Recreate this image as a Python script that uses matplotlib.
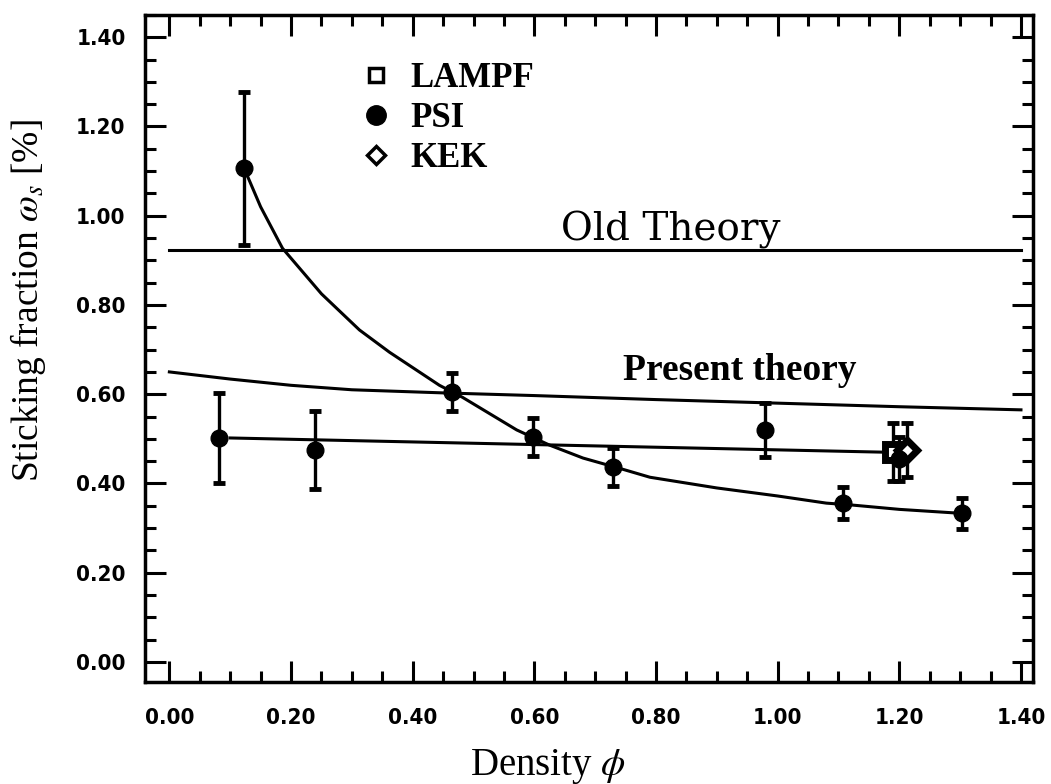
import matplotlib
matplotlib.use("Agg")
import matplotlib.pyplot as plt
from matplotlib.lines import Line2D
from matplotlib.ticker import MultipleLocator

plt.rcParams['mathtext.fontset'] = 'stix'

# PSI points (density, sticking fraction %, error)
psi_x = [0.123, 0.081, 0.240, 0.464, 0.597, 0.729, 0.98, 1.107, 1.303, 1.20]
psi_y = [1.106, 0.502, 0.475, 0.605, 0.504, 0.437, 0.52, 0.356, 0.333, 0.455]
psi_err = [0.172, 0.100, 0.087, 0.042, 0.043, 0.043, 0.06, 0.036, 0.035, 0.05]

lampf_x = [1.19]
lampf_y = [0.47]
lampf_err = [0.065]

kek_x = [1.213]
kek_y = [0.475]
kek_err = [0.06]

# theory / fit curves
old_x = [0.0, 1.40]
old_y = [0.923, 0.923]

present_x = [0.0, 0.1, 0.2, 0.3, 0.45, 0.6, 0.8, 1.0, 1.2, 1.4]
present_y = [0.650, 0.634, 0.620, 0.610, 0.603, 0.597, 0.588, 0.580, 0.572, 0.565]

flat_x = [0.10, 1.18]
flat_y = [0.502, 0.470]

fit_x = [0.123, 0.15, 0.186, 0.25, 0.3125, 0.362, 0.444, 0.482, 0.571, 0.625,
         0.68, 0.745, 0.79, 0.9, 1.0, 1.08, 1.12, 1.2, 1.303]
fit_y = [1.106, 1.02, 0.927, 0.825, 0.744, 0.694, 0.62, 0.593, 0.52, 0.486,
         0.457, 0.432, 0.414, 0.39, 0.372, 0.356, 0.352, 0.342, 0.333]

serif = ['Liberation Serif', 'DejaVu Serif']

fig = plt.figure(figsize=(10.51, 7.84), dpi=100)
ax = fig.add_axes([0.138, 0.130, 0.845, 0.851])

lw = 2.2
ax.plot(old_x, old_y, color='black', lw=lw)
ax.plot(present_x, present_y, color='black', lw=lw)
ax.plot(flat_x, flat_y, color='black', lw=lw)
ax.plot(fit_x, fit_y, color='black', lw=lw)

eb = dict(fmt='none', ecolor='black', elinewidth=2.4, capsize=4, capthick=3.5)
ax.errorbar(lampf_x, lampf_y, yerr=lampf_err, **eb)
ax.errorbar(kek_x, kek_y, yerr=kek_err, **eb)
ax.plot(lampf_x, lampf_y, 's', mfc='white', mec='black', mew=5, ms=11, ls='none')
ax.plot(kek_x, kek_y, 'D', mfc='white', mec='black', mew=5, ms=10, ls='none')
ax.errorbar(psi_x, psi_y, yerr=psi_err, **eb)
ax.plot(psi_x, psi_y, 'o', color='black', ms=12, ls='none')

ax.text(0.825, 0.945, 'Old Theory', family=['DejaVu Serif'], fontsize=28,
        ha='center', va='baseline')
ax.text(0.745, 0.632, 'Present theory', family=serif, fontsize=27, fontweight='bold',
        ha='left', va='baseline')

handles = [
    Line2D([], [], marker='s', ls='none', mfc='white', mec='black', mew=2.5, ms=10),
    Line2D([], [], marker='o', ls='none', color='black', ms=14),
    Line2D([], [], marker='D', ls='none', mfc='white', mec='black', mew=2.5, ms=9),
]
ax.legend(handles, ['LAMPF', 'PSI', 'KEK'], loc='upper left', bbox_to_anchor=(0.225, 0.955),
          frameon=False, handlelength=0.8, handletextpad=0.6, labelspacing=0.2,
          borderpad=0, prop=dict(family=serif, size=25, weight='bold'))

ax.set_xlim(-0.04, 1.42)
ax.set_ylim(-0.045, 1.45)
ax.xaxis.set_major_locator(MultipleLocator(0.2))
ax.xaxis.set_minor_locator(MultipleLocator(0.05))
ax.yaxis.set_major_locator(MultipleLocator(0.2))
ax.yaxis.set_minor_locator(MultipleLocator(0.05))
ax.xaxis.set_major_formatter(lambda v, p: f"{v:.2f}")
ax.yaxis.set_major_formatter(lambda v, p: f"{v:.2f}")

ax.tick_params(which='both', direction='in', top=True, right=True, width=2.2)
ax.tick_params(which='major', length=15)
ax.tick_params(which='minor', length=8)
ax.tick_params(axis='x', which='major', pad=19)
ax.tick_params(axis='y', which='major', pad=14)
for lab in ax.get_xticklabels() + ax.get_yticklabels():
    lab.set_fontfamily('DejaVu Sans')
    lab.set_fontstretch('condensed')
    lab.set_fontweight('bold')
    lab.set_fontsize(16)
for s in ax.spines.values():
    s.set_linewidth(2.5)

ax.set_xlabel('Density $\\phi$', family=serif, fontsize=28)
ax.set_ylabel('Sticking fraction $\\omega_s$ [%]', family=serif, fontsize=27)
ax.xaxis.set_label_coords(0.454, -0.097)
ax.yaxis.set_label_coords(-0.109, 0.572)

plt.savefig('out.png', dpi=100)
